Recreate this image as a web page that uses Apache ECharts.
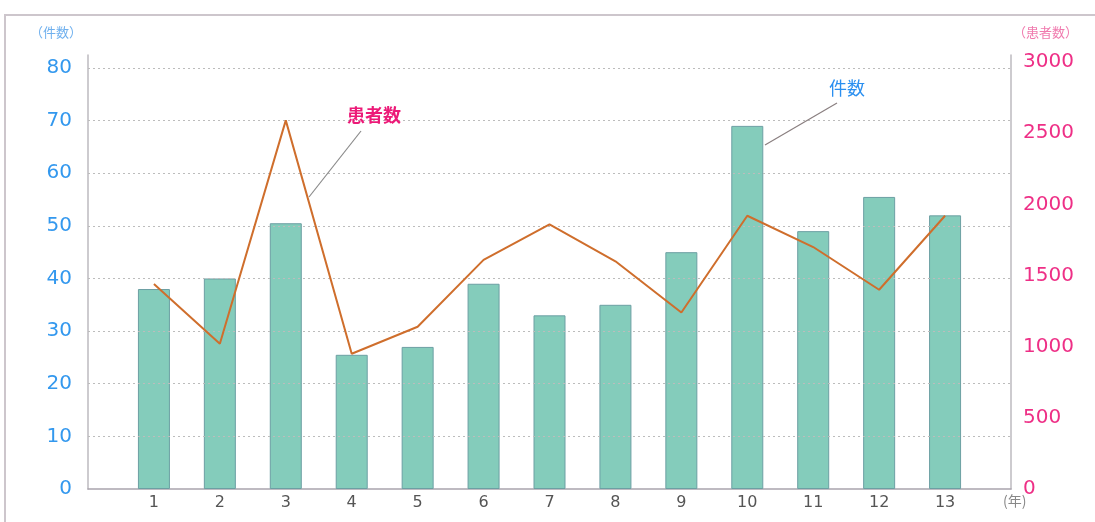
<!DOCTYPE html>
<html><head><meta charset="utf-8">
<script src="https://cdn.jsdelivr.net/npm/echarts@6/dist/echarts.min.js"></script>
<style>html,body{margin:0;padding:0;background:#fff}#c{width:1095px;height:522px}</style>
</head><body><div id="c"></div>
<script>
const categories = [1,2,3,4,5,6,7,8,9,10,11,12,13];
const caseCounts = [38,40,50.5,25.5,27,39,33,35,45,69,49,55.5,52];
const patientCounts = [1440,1020,2590,950,1140,1610,1860,1600,1240,1920,1700,1400,1920];
const leftTicks = [10,20,30,40,50,60,70,80];

const FONT = '"Noto Sans CJK JP", "Noto Sans", sans-serif';
const NUMFONT = '"DejaVu Sans", sans-serif';
const chart = echarts.init(document.getElementById('c'));
chart.setOption({
  animation:false,
  backgroundColor:'#fff',
  grid:{left:88,right:84,top:55,bottom:33},
  xAxis:{
    type:'value',min:0,max:14,interval:1,
    axisLine:{show:true,lineStyle:{color:'#a9a4ad',width:1.5}},
    axisTick:{show:false},splitLine:{show:false},
    axisLabel:{color:'#555',fontSize:16,fontFamily:NUMFONT,margin:6,
      formatter:v=> categories.indexOf(v)>=0 ? String(v) : ''},
    name:'(年)',nameLocation:'end',nameGap:-8,nameMoveOverlap:false,
    nameTextStyle:{color:'#888',fontSize:14,fontFamily:FONT,verticalAlign:'top',padding:[5,0,0,0]}
  },
  yAxis:[
    {type:'value',min:0,max:82.47,interval:10,
     axisLine:{show:true,lineStyle:{color:'#bdbabf',width:1.5}},
     axisTick:{show:false},splitLine:{show:false},
     axisLabel:{color:'#3398ee',fontSize:20,fontFamily:NUMFONT,margin:16,
       formatter:v=> (Math.abs(v%10)<1e-6) ? String(v) : ''},
     name:'（件数）',nameGap:16,
     nameTextStyle:{color:'#6fb0ee',fontSize:13,fontFamily:FONT,align:'right',padding:[0,6,0,0]}
    },
    {type:'value',min:0,max:3049.2,interval:500,position:'right',
     axisLine:{show:true,lineStyle:{color:'#bdbabf',width:1.5}},
     axisTick:{show:false},splitLine:{show:false},
     axisLabel:{color:'#ee2f86',fontSize:20,fontFamily:NUMFONT,margin:12,
       formatter:v=> (Math.abs(v%500)<1e-6) ? String(v) : ''},
     name:'（患者数）',nameGap:16,
     nameTextStyle:{color:'#f07aae',fontSize:13,fontFamily:FONT,align:'left',padding:[0,0,0,2]}
    }
  ],
  series:[
    {type:'bar',name:'件数',yAxisIndex:0,barWidth:32,
     data:categories.map((c,i)=>[c,caseCounts[i]]),
     itemStyle:{color:'#84ccbb',borderColor:'#6c9fa3',borderWidth:1},
     markLine:{silent:true,symbol:'none',label:{show:false},
       lineStyle:{color:'#bcbcbc',type:[2,3],width:1},
       data:leftTicks.map(t=>({yAxis:t}))}
    },
    {type:'line',name:'患者数',yAxisIndex:1,symbol:'none',
     data:categories.map((c,i)=>[c,patientCounts[i]]),
     lineStyle:{color:'#cf6e2c',width:2},z:5}
  ],
  graphic:[
    {type:'rect',shape:{x:5,y:15,width:1100,height:520},style:{fill:'none',stroke:'#cdc6cc',lineWidth:2},silent:true},
    {type:'line',shape:{x1:309,y1:197,x2:361,y2:131},style:{stroke:'#8a8a8a',lineWidth:1.2},z:10},
    {type:'text',style:{text:'患者数',x:374,y:115,align:'center',verticalAlign:'middle',fill:'#ec1a78',fontSize:18,fontWeight:'bold',fontFamily:FONT},z:10},
    {type:'line',shape:{x1:765,y1:145,x2:837,y2:103},style:{stroke:'#8a7f80',lineWidth:1.2},z:10},
    {type:'text',style:{text:'件数',x:847,y:88,align:'center',verticalAlign:'middle',fill:'#2a8ff0',fontSize:18,fontFamily:FONT},z:10}
  ]
});
</script></body></html>
